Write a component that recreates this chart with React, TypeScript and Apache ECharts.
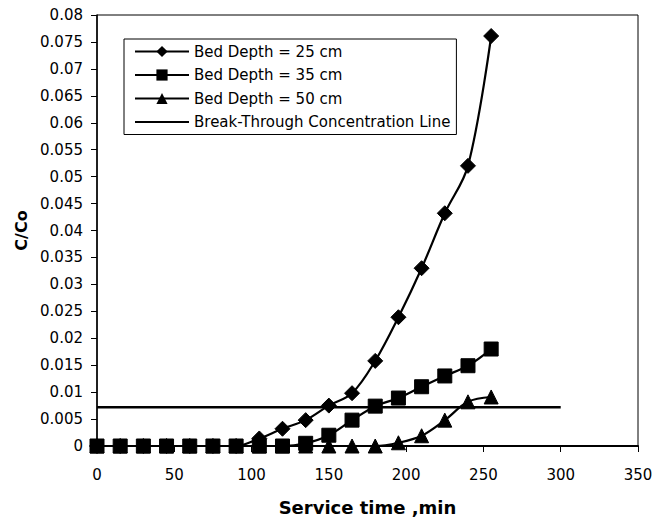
import React, { useEffect, useRef } from "react";
import * as echarts from "echarts";

const times = [0, 15, 30, 45, 60, 75, 90, 105, 120, 135, 150, 165, 180, 195, 210, 225, 240, 255];
const depth25 = [0, 0, 0, 0, 0, 0, 0, 0.0014, 0.0032, 0.0048, 0.0075, 0.0098, 0.0158, 0.0239, 0.033, 0.0432, 0.052, 0.0761];
const depth35 = [0, 0, 0, 0, 0, 0, 0, 0, 0, 0.0005, 0.002, 0.0048, 0.0074, 0.0089, 0.011, 0.013, 0.0149, 0.018];
const depth50 = [0, 0, 0, 0, 0, 0, 0, 0, 0, 0, 0, 0, 0, 0.0006, 0.0019, 0.0048, 0.0082, 0.0091];
const breakThroughX = [0, 300];
const breakThroughY = 0.0072;
const seriesNames = [
  "Bed Depth = 25 cm",
  "Bed Depth = 35 cm",
  "Bed Depth = 50 cm",
  "Break-Through Concentration Line",
];

const FONT = "'DejaVu Sans', sans-serif";

export default function App() {
  const ref = useRef<HTMLDivElement>(null);
  useEffect(() => {
    if (!ref.current) return;
    const chart = echarts.init(ref.current, null, { renderer: "svg" });
    const pair = (ys: number[]) => times.map((t, i) => [t, ys[i]]);
    const curve = (name: string, ys: number[], symbol: string, size: number) => ({
      name,
      type: "line",
      data: pair(ys),
      smooth: 0.35,
      symbol,
      symbolSize: size,
      lineStyle: { color: "#000", width: 2.2 },
      itemStyle: { color: "#000", borderColor: "#000" },
      z: 3,
    });
    chart.setOption({
      animation: false,
      backgroundColor: "#fff",
      grid: {
        left: 97,
        right: 29,
        top: 15,
        bottom: 75,
        show: true,
        borderColor: "#000",
        borderWidth: 1,
        backgroundColor: "transparent",
        containLabel: false,
        outerBoundsMode: "none",
      },
      legend: {
        orient: "vertical",
        left: 124,
        top: 39,
        padding: [5, 6, 5, 10],
        itemGap: 8.5,
        itemWidth: 54,
        itemHeight: 14,
        itemTextGap: 4,
        borderColor: "#000",
        borderWidth: 1,
        backgroundColor: "#fff",
        borderRadius: 0,
        data: [
          seriesNames[0],
          seriesNames[1],
          seriesNames[2],
          { name: seriesNames[3], itemStyle: { opacity: 0 } },
        ],
        textStyle: { fontFamily: FONT, fontSize: 15, color: "#000" },
      },
      xAxis: {
        type: "value",
        min: 0,
        max: 350,
        interval: 50,
        name: "Service time ,min",
        nameLocation: "middle",
        nameGap: 52,
        nameTextStyle: { fontFamily: FONT, fontSize: 18, fontWeight: "bold", color: "#000" },
        axisLine: { show: true, onZero: false, lineStyle: { color: "#000", width: 2 } },
        axisTick: { show: true, length: 6, lineStyle: { color: "#000" } },
        axisLabel: { margin: 21, fontFamily: FONT, fontSize: 15, color: "#000" },
        splitLine: { show: false },
      },
      yAxis: {
        type: "value",
        min: 0,
        max: 0.08,
        interval: 0.005,
        name: "C/Co",
        nameLocation: "middle",
        nameGap: 68,
        nameRotate: 90,
        nameTextStyle: { fontFamily: FONT, fontSize: 16, fontWeight: "bold", color: "#000" },
        axisLine: { show: true, lineStyle: { color: "#000", width: 1.5 } },
        axisTick: { show: true, length: 6, lineStyle: { color: "#000" } },
        axisLabel: {
          margin: 14,
          fontFamily: FONT,
          fontSize: 15,
          color: "#000",
          formatter: (v: number) => String(parseFloat(v.toFixed(3))),
        },
        splitLine: { show: false },
      },
      series: [
        curve(seriesNames[0], depth25, "diamond", 15),
        curve(seriesNames[1], depth35, "rect", 14),
        curve(seriesNames[2], depth50, "triangle", 14),
        {
          name: seriesNames[3],
          type: "line",
          data: breakThroughX.map((x) => [x, breakThroughY]),
          symbol: "none",
          lineStyle: { color: "#000", width: 2.5 },
          itemStyle: { color: "#000" },
          z: 2,
        },
      ],
    });
    return () => chart.dispose();
  }, []);
  return (
    <div
      ref={ref}
      style={{ position: "fixed", left: 0, top: 0, width: 667, height: 521 }}
    />
  );
}
